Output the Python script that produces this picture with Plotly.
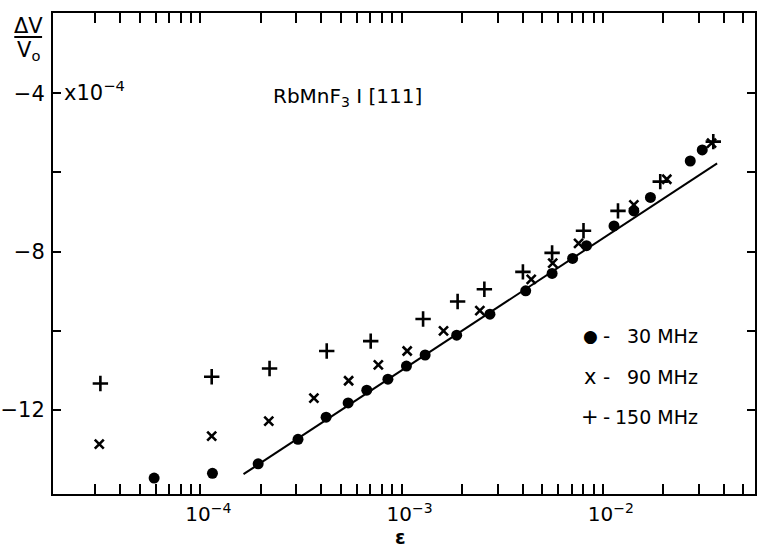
import plotly.graph_objects as go

# Relative sound-velocity change dV/V0 (units of 1e-4) versus strain amplitude epsilon
eps_30 = [5.9e-5, 1.15e-4, 1.94e-4, 3.06e-4, 4.22e-4, 5.43e-4, 6.72e-4, 8.56e-4,
          1.058e-3, 1.31e-3, 1.88e-3, 2.75e-3, 4.14e-3, 5.6e-3, 7.08e-3, 8.3e-3,
          1.137e-2, 1.427e-2, 1.725e-2, 2.72e-2, 3.12e-2]
dv_30 = [-13.72, -13.60, -13.36, -12.74, -12.18, -11.82, -11.50, -11.22,
         -10.89, -10.61, -10.11, -9.58, -8.99, -8.55, -8.17, -7.85,
         -7.35, -6.97, -6.63, -5.71, -5.43]

eps_90 = [3.15e-5, 1.14e-4, 2.19e-4, 3.67e-4, 5.46e-4, 7.67e-4, 1.067e-3, 1.617e-3,
          2.45e-3, 4.41e-3, 5.64e-3, 7.58e-3, 1.427e-2, 2.08e-2, 3.47e-2]
dv_90 = [-12.86, -12.66, -12.28, -11.70, -11.26, -10.86, -10.51, -10.00,
         -9.49, -8.70, -8.29, -7.79, -6.82, -6.17, -5.26]

eps_150 = [3.19e-5, 1.14e-4, 2.21e-4, 4.25e-4, 7.03e-4, 1.28e-3, 1.90e-3, 2.58e-3,
           4.01e-3, 5.6e-3, 8.02e-3, 1.19e-2, 1.93e-2, 3.54e-2]
dv_150 = [-11.33, -11.16, -10.95, -10.51, -10.26, -9.70, -9.26, -8.95,
          -8.51, -8.03, -7.47, -6.97, -6.23, -5.22]

# straight-line fit (linear in log epsilon)
fit_eps = [1.64e-4, 3.7e-2]
fit_dv = [-13.62, -5.77]

# labelled decade ticks and unlabelled minor ticks
x_tickvals = [1e-4, 1e-3, 1e-2]
x_ticktext = ["10<sup>−4</sup>", "10<sup>−3</sup>", "10<sup>−2</sup>"]
x_minorvals = [3e-5, 4e-5, 5e-5, 6e-5, 7e-5, 8e-5, 9e-5,
               2e-4, 3e-4, 4e-4, 5e-4, 6e-4, 7e-4, 8e-4, 9e-4,
               2e-3, 3e-3, 4e-3, 5e-3, 6e-3, 7e-3, 8e-3, 9e-3,
               2e-2, 3e-2, 4e-2, 5e-2]
y_tickvals = [-4, -8, -12]
y_ticktext = ["−4", "−8", "−12"]
y_minorvals = [-6, -10]

legend_labels = ["30 MHz", "90 MHz", "150 MHz"]
legend_symbols = ["●", "x", "+"]

W, H = 757, 550
ML, MR, MT, MB = 50, 0, 13, 56
FONT = "DejaVu Sans, sans-serif"


def px(x):
    return (x - ML) / (W - ML - MR)


def py(y):
    return (H - MB - y) / (H - MT - MB)


fig = go.Figure()
fig.add_trace(go.Scatter(x=fit_eps, y=fit_dv, mode="lines",
                         line=dict(color="black", width=2), hoverinfo="skip"))
fig.add_trace(go.Scatter(x=eps_30, y=dv_30, mode="markers", name=legend_labels[0],
                         marker=dict(symbol="circle", size=11, color="black")))
fig.add_trace(go.Scatter(x=eps_90, y=dv_90, mode="markers", name=legend_labels[1],
                         marker=dict(symbol="x-thin", size=9,
                                     line=dict(color="black", width=2.6))))
fig.add_trace(go.Scatter(x=eps_150, y=dv_150, mode="markers", name=legend_labels[2],
                         marker=dict(symbol="cross-thin", size=11,
                                     line=dict(color="black", width=2.6))))

annotations = [
    dict(x=px(25), y=py(26), text="ΔV", font=dict(size=21)),
    dict(x=px(25), y=py(51), text="V<sub>o</sub>", font=dict(size=21)),
    dict(x=px(59), y=py(91), text="x10<sup>−4</sup>", xanchor="left", font=dict(size=21)),
    dict(x=px(270), y=py(97), text="RbMnF<sub>3</sub> I [111]", xanchor="left",
         font=dict(size=20)),
    dict(x=px(400), y=py(537), text="<b>ε</b>", font=dict(size=19)),
]
legend_y = [336, 377, 417]
for sym, lab, yy in zip(legend_symbols, legend_labels, legend_y):
    annotations.append(dict(x=px(591), y=py(yy), text=sym,
                            font=dict(size=21 if sym != "●" else 17)))
    annotations.append(dict(x=px(607), y=py(yy), text="-", font=dict(size=20)))
    annotations.append(dict(x=px(702), y=py(yy), text=lab, xanchor="right",
                            font=dict(size=19)))
for a in annotations:
    a.update(xref="paper", yref="paper", showarrow=False, yanchor="middle")
    a.setdefault("xanchor", "center")
    a["font"]["family"] = FONT
    a["font"]["color"] = "black"

fig.update_layout(
    width=W, height=H,
    margin=dict(l=ML, r=MR, t=MT, b=MB),
    paper_bgcolor="white", plot_bgcolor="white",
    showlegend=False,
    font=dict(family=FONT, color="black", size=21),
    annotations=annotations,
    shapes=[dict(type="line", xref="paper", yref="paper",
                 x0=px(11), x1=px(39), y0=py(37), y1=py(37),
                 line=dict(color="black", width=2))],
    xaxis=dict(type="log", range=[-4.7316, -1.2437],
               tickmode="array", tickvals=x_tickvals, ticktext=x_ticktext,
               ticks="inside", ticklen=10, tickwidth=2, tickcolor="black",
               minor=dict(tickmode="array", tickvals=x_minorvals, ticks="inside",
                          ticklen=10, tickwidth=2, tickcolor="black", showgrid=False),
               showline=True, linecolor="black", linewidth=2, mirror="ticks",
               showgrid=False, zeroline=False, ticklabelstandoff=1,
               ticklabelshift=8,
               tickfont=dict(family=FONT, size=20, color="black")),
    yaxis=dict(range=[-14.121, -1.972],
               tickmode="array", tickvals=y_tickvals, ticktext=y_ticktext,
               ticks="inside", ticklen=8, tickwidth=2, tickcolor="black",
               minor=dict(tickmode="array", tickvals=y_minorvals, ticks="inside",
                          ticklen=8, tickwidth=2, tickcolor="black", showgrid=False),
               showline=True, linecolor="black", linewidth=2, mirror="ticks",
               showgrid=False, zeroline=False, ticklabelstandoff=2,
               tickfont=dict(family=FONT, size=21, color="black")),
)

fig.write_html("out.html")
